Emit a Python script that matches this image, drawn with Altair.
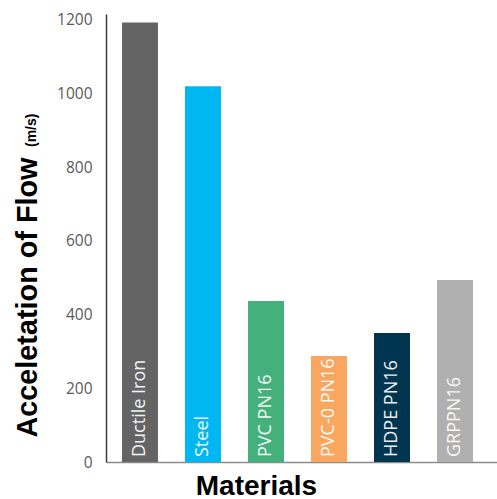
import altair as alt
import pandas as pd

materials = ["Ductile Iron", "Steel", "PVC PN16", "PVC-0 PN16", "HDPE PN16", "GRPPN16"]
values = [1193, 1020, 437, 288, 350, 494]
colors = ["#646464", "#00B7F1", "#44B07B", "#F8A660", "#00354F", "#B0B0B0"]
y_ticks = [0, 200, 400, 600, 800, 1000, 1200]
y_title = "Acceletation of Flow"
y_unit = "(m/s)"
x_title = "Materials"

df = pd.DataFrame({"material": materials, "value": values})

xenc = alt.X(
    "material:N",
    sort=materials,
    scale=alt.Scale(paddingInner=0.4286, paddingOuter=0.317, align=0.4),
    axis=alt.Axis(
        labels=False, ticks=False, domainColor="#8c8c8c", domainWidth=1.5,
        title=x_title, titleFont="Liberation Sans", titleFontSize=28,
        titleFontWeight="bold", titleColor="black",
        titleX=150, titleY=32, titleAlign="center", titleBaseline="alphabetic",
    ),
)
yenc = alt.Y(
    "value:Q",
    scale=alt.Scale(domain=[0, 1216], nice=False),
    axis=alt.Axis(
        values=y_ticks, format="d", grid=False, ticks=False, labelPadding=14,
        labelFont="Open Sans", labelFontSize=15.5, labelFontWeight=400,
        labelColor="#5a5a5a",
        domainColor="#3a3a3a", domainWidth=1.5,
        title=y_title, titleFont="Liberation Sans", titleFontSize=28.8,
        titleFontWeight="bold", titleColor="black", titleAngle=270,
        titleAlign="left", titleBaseline="alphabetic", titleX=-70, titleY=423,
    ),
)

bars = alt.Chart(df).mark_bar().encode(
    x=xenc,
    y=yenc,
    color=alt.Color("material:N", sort=materials,
                    scale=alt.Scale(domain=materials, range=colors), legend=None),
)

labels = alt.Chart(df).mark_text(
    angle=270, align="left", baseline="middle", color="white",
    font="Open Sans", fontSize=18, fontWeight=400, opacity=0.92,
).encode(
    x=alt.X("material:N", sort=materials),
    y=alt.value(443),
    text="material:N",
)

unit = alt.Chart(pd.DataFrame({"u": [y_unit]})).mark_text(
    angle=270, align="left", baseline="alphabetic", color="black",
    font="Liberation Sans", fontSize=14, fontWeight="bold",
).encode(
    x=alt.value(-70),
    y=alt.value(133),
    text="u:N",
)

chart = alt.layer(bars, labels, unit).properties(
    width=391, height=448,
    autosize=alt.AutoSizeParams(type="none"),
    padding={"left": 106, "top": 14, "right": 0, "bottom": 37},
).configure_view(stroke=None)

chart.save("out.html", embed_options={"renderer": "svg", "actions": False})
